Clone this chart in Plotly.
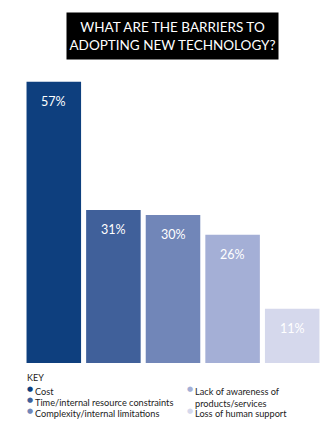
import plotly.graph_objects as go

categories = ["Cost", "Time/internal resource constraints", "Complexity/internal limitations",
              "Lack of awareness of products/services", "Loss of human support"]
values = [57, 31, 30, 26, 11]
colors = ["#0e3f7e", "#40609a", "#7186b8", "#a4afd6", "#d5d8ec"]
legend_labels = ["Cost", "Time/internal resource constraints", "Complexity/internal limitations",
                 "Lack of awareness of<br>products/services", "Loss of human support"]
title_text = "WHAT ARE THE BARRIERS TO<br>ADOPTING NEW TECHNOLOGY?"

W, H = 333, 426
ML, MR, MT, MB = 24, 11, 67, 63
PW, PH = W - ML - MR, H - MT - MB

def px(x):
    return (x - ML) / PW

def py(y):
    return (H - MB - y) / PH

FONT = "Lato"

fig = go.Figure()
fig.add_trace(go.Bar(
    x=categories, y=values, marker=dict(color=colors, line=dict(width=0)),
    hoverinfo="skip", showlegend=False,
))

annotations = []
for c, v in zip(categories, values):
    annotations.append(dict(
        x=c, y=v, xref="x", yref="y", text=f"{v}%", showarrow=False,
        yanchor="top", yshift=-10, font=dict(family=FONT, size=12.5, color="white"),
    ))

annotations.append(dict(
    xref="paper", yref="paper", x=px(172.5), y=py(36), text=title_text,
    showarrow=False, xanchor="center", yanchor="middle",
    bgcolor="black", width=207, height=42, borderpad=2,
    font=dict(family=FONT, size=13.5, color="white"), align="center",
))

annotations.append(dict(
    xref="paper", yref="paper", x=px(25), y=py(377), text="KEY", showarrow=False,
    xanchor="left", yanchor="middle", font=dict(family=FONT, size=9, color="#222"),
))

legend_pos = [(27, 389), (27, 400), (27, 411), (187, 389), (187, 411)]
for (lx, ly), lab, col in zip(legend_pos, legend_labels, colors):
    annotations.append(dict(
        xref="paper", yref="paper", x=px(lx - 2), y=py(ly), text="●", showarrow=False,
        xanchor="left", yanchor="middle", font=dict(family="DejaVu Sans", size=7, color=col),
    ))
    annotations.append(dict(
        xref="paper", yref="paper", x=px(lx + 6), y=py(ly - 5), text=lab, showarrow=False,
        xanchor="left", yanchor="top", align="left",
        font=dict(family=FONT, size=9.2, color="#222"),
    ))

fig.update_layout(
    width=W, height=H, margin=dict(l=ML, r=MR, t=MT, b=MB),
    paper_bgcolor="white", plot_bgcolor="white",
    bargap=0.085,
    xaxis=dict(visible=False),
    yaxis=dict(visible=False, range=[0, 60]),
    annotations=annotations,
    font=dict(family=FONT),
)

fig.write_html("out.html")
